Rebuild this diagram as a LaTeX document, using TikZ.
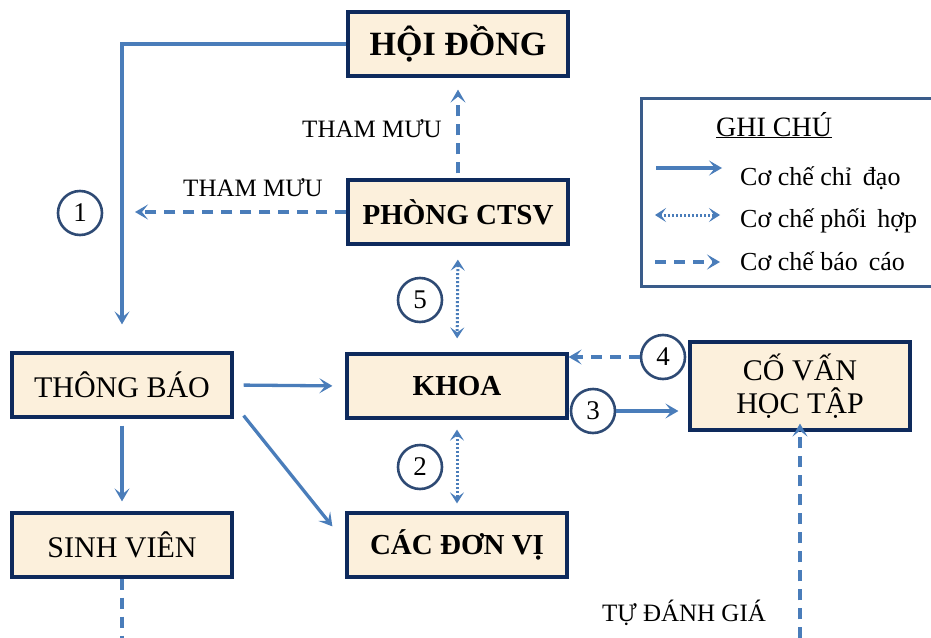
\documentclass[tikz,border=0pt]{standalone}
\usepackage{fontspec}
\setmainfont{Liberation Serif}
\usetikzlibrary{arrows.meta,calc}
\definecolor{boxfill}{HTML}{FCF0DC}
\definecolor{boxline}{HTML}{0E2A5C}
\definecolor{arr}{HTML}{4A7DBA}
\definecolor{circ}{HTML}{2E4A74}
\definecolor{legline}{HTML}{3A5C8A}
\tikzset{
  box/.style={draw=boxline, line width=3.2pt, fill=boxfill, minimum width=220pt, minimum height=64pt, inner sep=0pt, align=center, font=\fontsize{30}{33}\selectfont},
  bbox/.style={box, font=\fontsize{29}{33}\selectfont\bfseries},
  num/.style={circle, draw=circ, line width=2.6pt, minimum size=44pt, inner sep=0pt, font=\fontsize{27}{28}\selectfont},
  solidarr/.style={draw=arr, line width=3.3pt, -{Stealth[length=13pt,width=15pt,inset=6pt]}},
  dasharr/.style={solidarr, dash pattern=on 11pt off 8pt},
  dotarr/.style={draw=arr, line width=3pt, dash pattern=on 2pt off 2pt, {Stealth[length=11pt,width=14pt,inset=5pt]}-{Stealth[length=11pt,width=14pt,inset=5pt]}},
  lbl/.style={font=\fontsize{25}{26}\selectfont, inner sep=0pt},
  legtext/.style={font=\fontsize{26}{28}\selectfont, inner sep=0pt, anchor=base west},
}
\begin{document}
\begin{tikzpicture}[x=1pt,y=-1pt]
\useasboundingbox (0,0) rectangle (931,637);
% legend
\node[draw=legline, line width=3.2pt, fill=white, minimum width=310pt, minimum height=188pt, anchor=north west, inner sep=0pt] (leg) at (640,97) {};
\node[legtext, font=\fontsize{28}{30}\selectfont] (gc) at (716,136) {\underline{GHI CHÚ}};
\coordinate (l1a) at (656,168); \coordinate (l1b) at (722,168);
\coordinate (l2a) at (655,215); \coordinate (l2b) at (720,215);
\coordinate (l3a) at (655,262); \coordinate (l3b) at (720,262);
\draw[solidarr] (l1a) -- (l1b);
\draw[dotarr] (l2a) -- (l2b);
\draw[dasharr] (l3a) -- (l3b);
\node[legtext] (t1) at (740,185) {Cơ chế chỉ\, đạo};
\node[legtext] (t2) at (740,227) {Cơ chế phối\, hợp};
\node[legtext] (t3) at (740,270) {Cơ chế báo\, cáo};

% boxes
\node[bbox, font=\fontsize{34}{36}\selectfont\bfseries] (hd) at (458,44) {HỘI ĐỒNG};
\node[bbox] (pc) at (458,212) {PHÒNG CTSV};
\node[bbox] (kh) at (457,386) {KHOA};
\node[bbox] (cdv) at (457,545) {CÁC ĐƠN VỊ};
\node[box] (tb) at (122,385) {THÔNG BÁO};
\node[box] (sv) at (122,545) {SINH VIÊN};
\node[box, minimum height=88pt] (cv) at (800,386) {CỐ VẤN\\HỌC TẬP};

% circles
\node[num] (c1) at (80,213) {1};
\node[num] (c5) at (420,300) {5};
\node[num] (c2) at (420,467) {2};
\node[num] (c4) at (663,357) {4};
\node[num] (c3) at (593,411) {3};

% labels
\node[lbl] (tm1) at (372,129) {THAM MƯU};
\node[lbl] (tm2) at (253,188) {THAM MƯU};
\node[lbl] (tdg) at (684,613) {TỰ ĐÁNH GIÁ};

% connectors
\coordinate (corner1) at (122,44);
\draw[solidarr] (hd.west) -- (corner1) -- ($(tb.north)+(0,-27)$);
\coordinate (tmend) at (135,212);
\draw[dasharr] (pc.west) -- (tmend);
\draw[dasharr, shorten <=5pt, shorten >=12pt] (pc.north) -- (hd.south);
\draw[dotarr, shorten <=14pt, shorten >=14pt] (pc.south) -- (kh.north);
\draw[dotarr, shorten <=10pt, shorten >=8pt] (kh.south) -- (cdv.north);
\draw[solidarr, shorten <=10pt, shorten >=13pt] (tb.east) -- (kh.west);
\draw[solidarr] ($(tb.south east)+(10,-3)$) -- ($(cdv.north west)+(-13,15)$);
\draw[solidarr, shorten <=7pt, shorten >=10pt] (tb.south) -- (sv.north);
\draw[dasharr] (c4.west) -- ($(kh.east)+(0,-29)$);
\draw[solidarr, shorten >=10pt] (c3.east) -- (c3.east -| cv.west);
\coordinate (bl) at (122,640);
\coordinate (br) at (800,640);
\draw[dasharr] (sv.south) -- (bl) -- (br) -- ($(cv.south)+(0,-8)$);
\end{tikzpicture}
\end{document}
